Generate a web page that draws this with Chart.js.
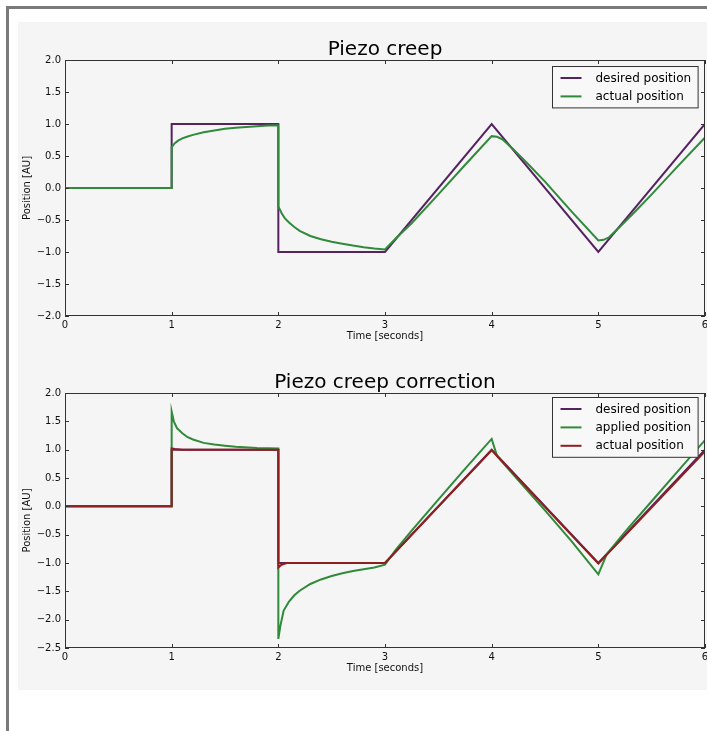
<!DOCTYPE html>
<html>
<head>
<meta charset="utf-8">
<script src="https://cdn.jsdelivr.net/npm/chart.js@4"></script>
<style>
  body { margin: 0; width: 707px; height: 731px; overflow: hidden; background: #fff; position: relative; }
  #frame { position: absolute; left: 6px; top: 6px; width: 760px; height: 760px; border-left: 3px solid #7b7b7b; border-top: 3px solid #7b7b7b; }
  #fig { position: absolute; left: 18px; top: 22px; width: 700px; height: 668px; background: #f5f5f5; }
  canvas { position: absolute; left: 0; }
  #c1 { top: 0; }
  #c2 { top: 345px; }
</style>
</head>
<body>
<div id="frame"></div>
<div id="fig"></div>
<canvas id="c1" width="720" height="342"></canvas>
<canvas id="c2" width="720" height="329"></canvas>
<script>
// desired position (both panels)
const desiredT = [0, 1, 1, 2, 2, 3, 4, 5, 6];
const desiredY = [0, 0, 1, 1, -1, -1, 1, -1, 1];

// top panel: actual position with creep
const creepT = [0, 1, 1, 1.03, 1.06, 1.1, 1.15, 1.2, 1.3, 1.4, 1.5, 1.6, 1.7, 1.8, 1.9, 2,
  2, 2.03, 2.06, 2.1, 2.15, 2.2, 2.3, 2.4, 2.5, 2.6, 2.7, 2.8, 2.9, 3,
  3.1, 3.25, 3.5, 3.75, 4, 4.05, 4.1, 4.2, 4.35, 4.5, 4.75, 5, 5.05, 5.1, 5.2, 5.35, 5.5, 5.75, 6];
const creepY = [0, 0, 0.64, 0.70, 0.74, 0.775, 0.805, 0.83, 0.87, 0.90, 0.925, 0.94, 0.955, 0.965, 0.975, 0.98,
  -0.29, -0.39, -0.47, -0.54, -0.61, -0.67, -0.75, -0.80, -0.84, -0.87, -0.90, -0.925, -0.945, -0.96,
  -0.79, -0.55, -0.10, 0.36, 0.81, 0.80, 0.76, 0.61, 0.36, 0.10, -0.37, -0.82, -0.81, -0.77, -0.61, -0.36, -0.10, 0.35, 0.79];

// bottom panel: applied (pre-compensated) position
const appliedT = [0, 1, 1, 1.02, 1.05, 1.1, 1.15, 1.2, 1.3, 1.4, 1.5, 1.6, 1.8, 2,
  2, 2.02, 2.05, 2.1, 2.15, 2.2, 2.3, 2.4, 2.5, 2.6, 2.7, 2.8, 2.9, 3,
  3.1, 3.25, 3.5, 3.75, 4, 4.05, 4.1, 4.25, 4.5, 4.75, 5, 5.04, 5.08, 5.25, 5.5, 5.75, 6];
const appliedY = [0, 0, 1.67, 1.50, 1.38, 1.29, 1.22, 1.18, 1.12, 1.09, 1.07, 1.05, 1.03, 1.02,
  -2.34, -2.10, -1.84, -1.68, -1.57, -1.49, -1.37, -1.29, -1.23, -1.18, -1.14, -1.11, -1.08, -1.03,
  -0.77, -0.43, 0.12, 0.66, 1.19, 0.89, 0.78, 0.46, -0.07, -0.62, -1.20, -1.02, -0.84, -0.45, 0.09, 0.63, 1.17];

// bottom panel: resulting actual position
const correctedT = [0, 1, 1, 1.03, 1.1, 2, 2, 2.03, 2.08, 3, 4, 5, 6];
const correctedY = [0, 0, 1.02, 1.01, 1.0, 1.0, -1.08, -1.03, -1.0, -1.0, 0.99, -1.01, 0.97];

const timeTicks = [0, 1, 2, 3, 4, 5, 6];

const PURPLE = '#55235f', GREEN = '#2f8a3a', RED = '#8f1f1f';

const pts = (ts, ys) => ts.map((t, i) => ({x: t, y: ys[i]}));

Chart.defaults.font.family = '"DejaVu Sans", sans-serif';
Chart.defaults.color = '#000';

const framePlugin = {
  id: 'frame',
  afterDatasetsDraw(chart, args, opts) {
    const {ctx, chartArea: a, scales} = chart;
    ctx.save();
    ctx.strokeStyle = '#333';
    ctx.lineWidth = 1;
    ctx.strokeRect(Math.round(a.left) + 0.5, Math.round(a.top) + 0.5, Math.round(a.width) - 1, Math.round(a.height) - 1);
    ctx.beginPath();
    scales.x.ticks.forEach(t => {
      const px = Math.round(scales.x.getPixelForValue(t.value)) + 0.5;
      ctx.moveTo(px, a.bottom); ctx.lineTo(px, a.bottom - 4);
      ctx.moveTo(px, a.top); ctx.lineTo(px, a.top + 4);
    });
    scales.y.ticks.forEach(t => {
      const py = Math.round(scales.y.getPixelForValue(t.value)) + 0.5;
      ctx.moveTo(a.left, py); ctx.lineTo(a.left + 4, py);
      ctx.moveTo(a.right, py); ctx.lineTo(a.right - 4, py);
    });
    ctx.stroke();

    // title over the axes
    ctx.fillStyle = '#000';
    ctx.font = '20px "DejaVu Sans"';
    ctx.textAlign = 'center';
    ctx.textBaseline = 'alphabetic';
    ctx.fillText(opts.text, (a.left + a.right) / 2, a.top - 5.5);

    // legend box in the upper right corner
    const items = chart.data.datasets;
    ctx.font = '12px "DejaVu Sans"';
    const tw = Math.max(...items.map(d => ctx.measureText(d.label).width));
    const pad = 11.5, rowH = 18.4;
    const w = 43 + tw + 7, h = pad * 2 + rowH * (items.length - 1);
    const x = Math.round(a.right - 7 - w) + 0.5, y = Math.round(a.top + opts.legendTop) + 0.5;
    ctx.fillStyle = '#f8f8f8';
    ctx.fillRect(x, y, w, h);
    ctx.strokeStyle = '#333';
    ctx.strokeRect(x, y, w, h);
    ctx.textAlign = 'left';
    ctx.textBaseline = 'middle';
    items.forEach((d, i) => {
      const cy = y + pad + i * rowH;
      ctx.strokeStyle = d.borderColor;
      ctx.lineWidth = 2;
      ctx.beginPath(); ctx.moveTo(x + 8, cy); ctx.lineTo(x + 29, cy); ctx.stroke();
      ctx.fillStyle = '#000';
      ctx.fillText(d.label, x + 43, cy + 0.5);
    });
    ctx.restore();
  }
};

function makeChart(id, datasets, yMin, padTop, title, legendTop) {
  return new Chart(document.getElementById(id), {
    type: 'line',
    data: {
      // later series are drawn on top, as in the original plot
      datasets: datasets.map((d, i) => ({
        label: d.label, data: d.data, borderColor: d.color, backgroundColor: d.color,
        borderWidth: 2, pointRadius: 0, tension: 0, fill: false, order: datasets.length - i
      }))
    },
    options: {
      responsive: false,
      animation: false,
      devicePixelRatio: 1,
      layout: { padding: { top: padTop, left: 0, right: 15, bottom: 0 } },
      plugins: {
        legend: { display: false },
        tooltip: { enabled: false },
        frame: { text: title, legendTop: legendTop }
      },
      scales: {
        x: {
          type: 'linear', min: 0, max: 6,
          afterBuildTicks: s => { s.ticks = timeTicks.map(v => ({value: v})); },
          ticks: { padding: 3, font: { size: 10 }, color: '#111', maxRotation: 0, callback: v => String(v) },
          grid: { display: false, drawTicks: false },
          border: { display: false },
          title: { display: true, text: 'Time [seconds]', font: { size: 10 }, color: '#111', padding: { top: 0, bottom: 0 } },
          afterFit: s => { s.height = 26; }
        },
        y: {
          min: yMin, max: 2,
          ticks: { stepSize: 0.5, padding: 4, font: { size: 10 }, color: '#111',
            callback: v => v.toFixed(1).replace('-', '\u2212') },
          grid: { display: false, drawTicks: false },
          border: { display: false },
          title: { display: true, text: 'Position [AU]', font: { size: 10 }, color: '#111', padding: { top: 21, bottom: 0 } },
          afterFit: s => { s.width = 65; }
        }
      }
    },
    plugins: [framePlugin]
  });
}

makeChart('c1', [
  { label: 'desired position', data: pts(desiredT, desiredY), color: PURPLE },
  { label: 'actual position', data: pts(creepT, creepY), color: GREEN }
], -2, 60, 'Piezo creep', 6);

makeChart('c2', [
  { label: 'desired position', data: pts(desiredT, desiredY), color: PURPLE },
  { label: 'applied position', data: pts(appliedT, appliedY), color: GREEN },
  { label: 'actual position', data: pts(correctedT, correctedY), color: RED }
], -2.5, 48, 'Piezo creep correction', 4);
</script>
</body>
</html>
